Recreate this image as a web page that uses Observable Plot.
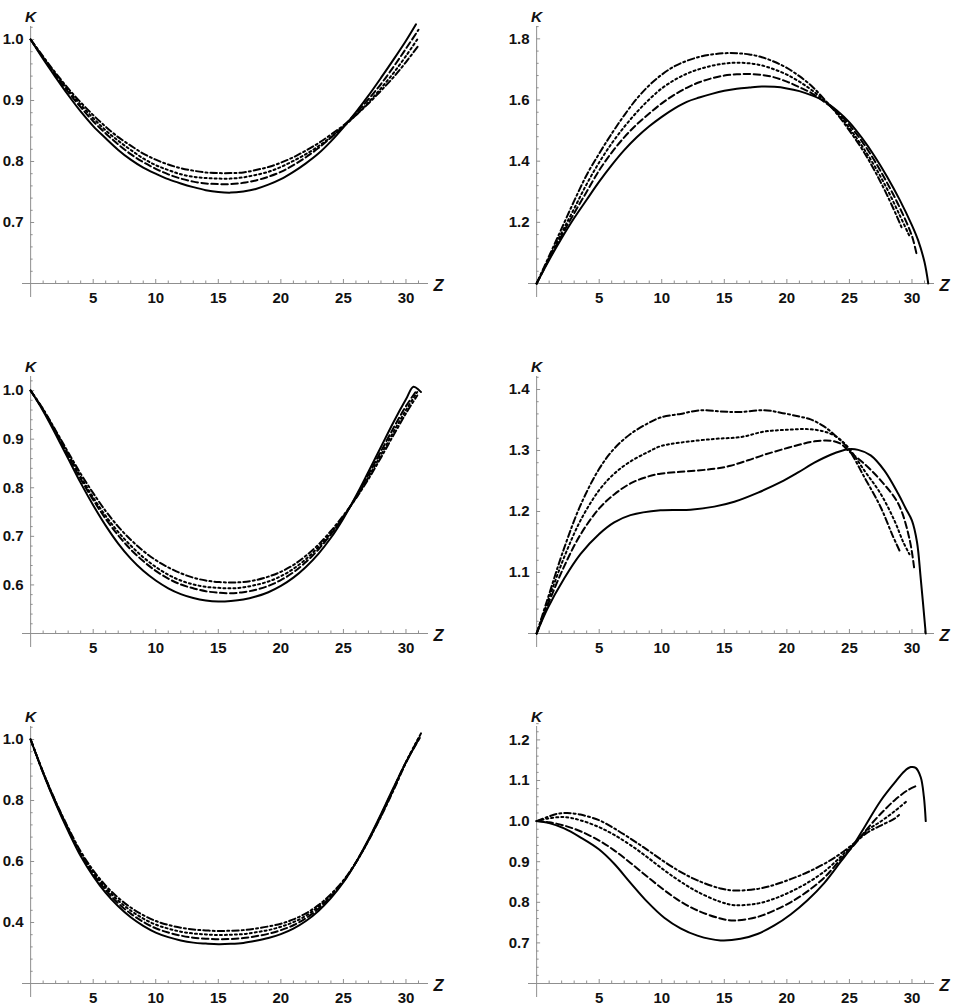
<!DOCTYPE html>
<html>
<head>
<meta charset="utf-8">
<script src="https://cdn.jsdelivr.net/npm/d3@7"></script>
<script src="https://cdn.jsdelivr.net/npm/@observablehq/plot@0.6"></script>
<style>
  html, body { margin: 0; padding: 0; background: #fff; overflow: hidden; }
  #wrap { position: relative; width: 957px; height: 1006px; overflow: hidden; background: #fff; }
  .panel { position: absolute; width: 470px; height: 306px; }
</style>
</head>
<body>
<div id="wrap"></div>
<script>
// ---------- axis ticks ----------
const xMajor = [5, 10, 15, 20, 25, 30];
const xMinor = d3.range(1, 32).filter(v => v % 5 !== 0);

// ---------- panel 1 (top left) ----------
const p1Solid = [[0,1.0],[1,0.968],[2,0.938],[3,0.909],[4,0.882],[5,0.858],[6,0.838],[7,0.819],[8,0.803],[9,0.790],[10,0.780],[11,0.771],[12,0.764],[13,0.758],[14,0.753],[15,0.750],[16,0.749],[17,0.751],[18,0.755],[19,0.762],[20,0.771],[21,0.783],[22,0.797],[23,0.813],[24,0.833],[25,0.856],[26,0.881],[27,0.908],[28,0.937],[29,0.967],[30,0.998],[30.8,1.025]];
const p1Dashed = [[0,1.0],[1,0.970],[2,0.941],[3,0.914],[4,0.889],[5,0.866],[6,0.846],[7,0.828],[8,0.812],[9,0.799],[10,0.788],[11,0.779],[12,0.772],[13,0.767],[14,0.764],[15,0.763],[16,0.763],[17,0.765],[18,0.769],[19,0.775],[20,0.783],[21,0.794],[22,0.807],[23,0.822],[24,0.839],[25,0.858],[26,0.879],[27,0.902],[28,0.927],[29,0.955],[30,0.985],[31,1.016]];
const p1Dotted = [[0,1.0],[1,0.971],[2,0.943],[3,0.917],[4,0.893],[5,0.871],[6,0.851],[7,0.834],[8,0.819],[9,0.805],[10,0.794],[11,0.786],[12,0.779],[13,0.775],[14,0.773],[15,0.772],[16,0.772],[17,0.774],[18,0.778],[19,0.783],[20,0.791],[21,0.801],[22,0.812],[23,0.825],[24,0.840],[25,0.857],[26,0.876],[27,0.897],[28,0.920],[29,0.945],[30,0.973],[31,1.003]];
const p1DashDot = [[0,1.0],[1,0.972],[2,0.945],[3,0.920],[4,0.897],[5,0.876],[6,0.857],[7,0.840],[8,0.826],[9,0.813],[10,0.803],[11,0.795],[12,0.789],[13,0.785],[14,0.782],[15,0.781],[16,0.781],[17,0.782],[18,0.786],[19,0.791],[20,0.798],[21,0.807],[22,0.818],[23,0.830],[24,0.844],[25,0.859],[26,0.876],[27,0.895],[28,0.916],[29,0.938],[30,0.963],[31,0.990]];

// ---------- panel 2 (top right) ----------
const p2Solid = [[0,1.0],[1,1.077],[2,1.148],[3,1.214],[4,1.274],[5,1.333],[6,1.387],[7,1.436],[8,1.478],[9,1.514],[10,1.545],[11,1.572],[12,1.594],[13,1.608],[14,1.620],[15,1.630],[16,1.637],[17,1.641],[18,1.644],[19,1.643],[20,1.638],[21,1.629],[22,1.615],[23,1.596],[24,1.566],[25,1.527],[26,1.476],[27,1.417],[28,1.350],[29,1.275],[30,1.190],[30.5,1.140],[31,1.070],[31.3,1.0]];
const p2Dashed = [[0,1.0],[1,1.080],[2,1.157],[3,1.230],[4,1.300],[5,1.370],[6,1.428],[7,1.478],[8,1.520],[9,1.556],[10,1.589],[11,1.617],[12,1.640],[13,1.658],[14,1.671],[15,1.680],[16,1.684],[17,1.685],[18,1.682],[19,1.674],[20,1.660],[21,1.642],[22,1.622],[23,1.594],[24,1.562],[25,1.518],[26,1.465],[27,1.402],[28,1.330],[29,1.250],[30,1.155],[30.4,1.090]];
const p2Dotted = [[0,1.0],[1,1.085],[2,1.166],[3,1.245],[4,1.325],[5,1.396],[6,1.458],[7,1.512],[8,1.560],[9,1.602],[10,1.638],[11,1.665],[12,1.686],[13,1.701],[14,1.712],[15,1.719],[16,1.722],[17,1.720],[18,1.713],[19,1.700],[20,1.683],[21,1.660],[22,1.632],[23,1.598],[24,1.558],[25,1.508],[26,1.450],[27,1.385],[28,1.310],[29,1.225],[29.8,1.155]];
const p2DashDot = [[0,1.0],[1,1.090],[2,1.180],[3,1.270],[4,1.355],[5,1.425],[6,1.490],[7,1.550],[8,1.604],[9,1.648],[10,1.683],[11,1.710],[12,1.728],[13,1.741],[14,1.749],[15,1.753],[16,1.753],[17,1.749],[18,1.740],[19,1.725],[20,1.705],[21,1.678],[22,1.645],[23,1.602],[24,1.555],[25,1.500],[26,1.440],[27,1.370],[28,1.290],[29,1.200],[29.2,1.180]];

// ---------- panel 3 (middle left) ----------
const p3Solid = [[0,1.0],[1,0.958],[2,0.910],[3,0.860],[4,0.810],[5,0.764],[6,0.722],[7,0.685],[8,0.654],[9,0.629],[10,0.609],[11,0.593],[12,0.581],[13,0.573],[14,0.568],[15,0.566],[16,0.567],[17,0.570],[18,0.576],[19,0.585],[20,0.598],[21,0.615],[22,0.637],[23,0.664],[24,0.697],[25,0.737],[26,0.783],[27,0.833],[28,0.884],[29,0.935],[30,0.982],[30.6,1.008],[31.2,0.997]];
const p3Dashed = [[0,1.0],[1,0.960],[2,0.914],[3,0.866],[4,0.818],[5,0.775],[6,0.736],[7,0.702],[8,0.673],[9,0.649],[10,0.629],[11,0.613],[12,0.601],[13,0.593],[14,0.587],[15,0.584],[16,0.583],[17,0.585],[18,0.590],[19,0.598],[20,0.610],[21,0.626],[22,0.647],[23,0.673],[24,0.704],[25,0.740],[26,0.781],[27,0.827],[28,0.875],[29,0.923],[30,0.968],[30.9,1.002]];
const p3Dotted = [[0,1.0],[1,0.961],[2,0.916],[3,0.869],[4,0.823],[5,0.780],[6,0.742],[7,0.709],[8,0.681],[9,0.657],[10,0.637],[11,0.621],[12,0.609],[13,0.601],[14,0.596],[15,0.594],[16,0.593],[17,0.595],[18,0.600],[19,0.607],[20,0.618],[21,0.633],[22,0.653],[23,0.678],[24,0.707],[25,0.741],[26,0.779],[27,0.822],[28,0.868],[29,0.915],[30,0.960],[30.9,0.997]];
const p3DashDot = [[0,1.0],[1,0.962],[2,0.918],[3,0.873],[4,0.829],[5,0.789],[6,0.752],[7,0.720],[8,0.693],[9,0.670],[10,0.651],[11,0.636],[12,0.624],[13,0.615],[14,0.609],[15,0.606],[16,0.605],[17,0.606],[18,0.610],[19,0.617],[20,0.627],[21,0.641],[22,0.660],[23,0.683],[24,0.711],[25,0.743],[26,0.778],[27,0.818],[28,0.862],[29,0.908],[30,0.953],[30.9,0.990]];

// ---------- panel 4 (middle right) ----------
const p4Solid = [[0,1.0],[0.85,1.040],[2.2,1.090],[3.5,1.130],[5,1.163],[6.2,1.182],[7.5,1.194],[9.9,1.202],[12.3,1.203],[14.2,1.208],[15.8,1.216],[17.7,1.231],[19.5,1.248],[20.9,1.264],[22.2,1.280],[23.5,1.293],[24.9,1.302],[25.7,1.301],[26.7,1.292],[27.8,1.267],[28.9,1.229],[29.5,1.205],[30.0,1.185],[30.4,1.150],[30.7,1.090],[31.1,1.0]];
const p4Dashed = [[0,1.0],[0.85,1.045],[2.2,1.110],[3.5,1.162],[5,1.205],[6.2,1.228],[7.5,1.246],[8.85,1.257],[9.9,1.262],[11.5,1.265],[14.2,1.270],[15.5,1.275],[16.9,1.284],[18.2,1.293],[19.5,1.301],[20.9,1.309],[22.2,1.315],[23.5,1.316],[24.3,1.311],[24.9,1.300],[26.2,1.278],[27.5,1.251],[28.9,1.213],[29.8,1.155],[30.2,1.103]];
const p4Dotted = [[0,1.0],[0.85,1.050],[2.2,1.125],[3.5,1.185],[5,1.235],[6.2,1.262],[7.5,1.282],[8.85,1.297],[9.9,1.307],[11.5,1.313],[14.2,1.319],[16.3,1.322],[18.2,1.331],[20.1,1.334],[21.7,1.335],[23.0,1.331],[24.0,1.322],[24.9,1.305],[26.2,1.267],[27.5,1.229],[28.6,1.185],[29.3,1.150],[29.8,1.130]];
const p4DashDot = [[0,1.0],[0.85,1.055],[2.2,1.140],[3.5,1.210],[5,1.270],[6.2,1.303],[7.5,1.327],[8.85,1.344],[9.9,1.354],[11.5,1.360],[13.1,1.366],[14.7,1.364],[16.1,1.363],[18.2,1.366],[19.5,1.362],[20.9,1.356],[21.9,1.351],[23,1.339],[24,1.322],[24.9,1.303],[26.2,1.256],[27.5,1.207],[28.4,1.163],[29.0,1.136]];

// ---------- panel 5 (bottom left) ----------
const p5Solid = [[0,1.0],[1,0.890],[2,0.790],[3,0.700],[4,0.618],[5,0.552],[6,0.497],[7,0.453],[8,0.417],[9,0.389],[10,0.367],[11,0.352],[12,0.341],[13,0.334],[14,0.331],[15,0.329],[16,0.330],[17,0.333],[18,0.340],[19,0.349],[20,0.362],[21,0.380],[22,0.405],[23,0.438],[24,0.480],[25,0.532],[26,0.597],[27,0.672],[28,0.755],[29,0.842],[30,0.925],[31,1.0]];
const p5Dashed = [[0,1.0],[1,0.891],[2,0.793],[3,0.704],[4,0.624],[5,0.559],[6,0.506],[7,0.463],[8,0.429],[9,0.402],[10,0.381],[11,0.367],[12,0.357],[13,0.350],[14,0.347],[15,0.345],[16,0.346],[17,0.349],[18,0.355],[19,0.363],[20,0.375],[21,0.391],[22,0.414],[23,0.445],[24,0.485],[25,0.534],[26,0.597],[27,0.670],[28,0.752],[29,0.839],[30,0.926],[31.1,1.005]];
const p5Dotted = [[0,1.0],[1,0.892],[2,0.795],[3,0.708],[4,0.629],[5,0.566],[6,0.514],[7,0.472],[8,0.439],[9,0.413],[10,0.393],[11,0.380],[12,0.370],[13,0.364],[14,0.361],[15,0.359],[16,0.360],[17,0.362],[18,0.368],[19,0.375],[20,0.386],[21,0.401],[22,0.422],[23,0.452],[24,0.489],[25,0.537],[26,0.597],[27,0.669],[28,0.750],[29,0.836],[30,0.926],[31.1,1.012]];
const p5DashDot = [[0,1.0],[1,0.893],[2,0.797],[3,0.711],[4,0.633],[5,0.571],[6,0.521],[7,0.481],[8,0.449],[9,0.424],[10,0.405],[11,0.392],[12,0.383],[13,0.377],[14,0.374],[15,0.372],[16,0.373],[17,0.375],[18,0.380],[19,0.387],[20,0.396],[21,0.410],[22,0.430],[23,0.457],[24,0.493],[25,0.538],[26,0.597],[27,0.668],[28,0.747],[29,0.833],[30,0.924],[31.2,1.020]];

// ---------- panel 6 (bottom right) ----------
const p6Solid = [[0,1.0],[1,0.995],[2.2,0.982],[3.5,0.960],[5,0.930],[6.2,0.895],[7.5,0.848],[8.85,0.801],[10.2,0.762],[11.5,0.736],[12.85,0.718],[14.7,0.706],[16.3,0.710],[17.65,0.722],[19,0.743],[20.3,0.770],[21.65,0.805],[23,0.848],[24.3,0.900],[25.4,0.945],[26.2,0.985],[27.5,1.050],[28.6,1.094],[29.4,1.123],[29.9,1.133],[30.3,1.131],[30.7,1.108],[30.95,1.060],[31.1,1.0]];
const p6Dashed = [[0,1.0],[1,0.997],[2.2,0.989],[3.5,0.975],[5,0.952],[6.2,0.928],[7.5,0.897],[8.85,0.863],[10.2,0.830],[11.5,0.802],[12.85,0.780],[14.7,0.760],[15.8,0.755],[17.65,0.764],[19,0.780],[20.3,0.800],[21.65,0.827],[23,0.861],[24.3,0.906],[25.4,0.942],[26.45,0.982],[27.5,1.018],[28.6,1.051],[29.65,1.076],[30.45,1.088]];
const p6Dotted = [[0,1.0],[0.85,1.006],[2.2,1.010],[3.5,1.002],[5,0.985],[6.2,0.966],[7.5,0.941],[8.85,0.911],[10.2,0.879],[11.5,0.851],[12.85,0.826],[14.7,0.801],[15.8,0.793],[17.65,0.797],[19,0.809],[20.3,0.826],[21.65,0.848],[23,0.876],[24.3,0.912],[25.4,0.945],[26.45,0.978],[27.5,0.999],[28.6,1.024],[29.65,1.051]];
const p6DashDot = [[0,1.0],[0.85,1.010],[1.65,1.018],[2.45,1.020],[3.5,1.016],[5,1.002],[6.2,0.982],[7.5,0.957],[8.85,0.929],[10.2,0.900],[11.5,0.875],[12.85,0.854],[14.7,0.834],[15.8,0.829],[17.65,0.833],[19,0.843],[20.3,0.857],[21.65,0.874],[23,0.895],[24.3,0.920],[25.4,0.946],[26.45,0.972],[27.5,0.989],[28.6,1.006],[29,1.016]];

// ---------- y axes ----------
const p1YLabels = [0.7, 0.8, 0.9, 1.0];
const p2YLabels = [1.2, 1.4, 1.6, 1.8];
const p3YLabels = [0.6, 0.7, 0.8, 0.9, 1.0];
const p4YLabels = [1.1, 1.2, 1.3, 1.4];
const p5YLabels = [0.4, 0.6, 0.8, 1.0];
const p6YLabels = [0.7, 0.8, 0.9, 1.0, 1.1, 1.2];

const panels = [
  {col: 0, row: 0, yMin: 0.6, yTop: 1.0213, yLabels: p1YLabels, yStep: 0.02, lines: [p1Solid, p1Dashed, p1Dotted, p1DashDot]},
  {col: 1, row: 0, yMin: 1.0, yTop: 1.8404, yLabels: p2YLabels, yStep: 0.04, lines: [p2Solid, p2Dashed, p2Dotted, p2DashDot]},
  {col: 0, row: 1, yMin: 0.5, yTop: 1.0290, yLabels: p3YLabels, yStep: 0.02, lines: [p3Solid, p3Dashed, p3Dotted, p3DashDot]},
  {col: 1, row: 1, yMin: 1.0, yTop: 1.4213, yLabels: p4YLabels, yStep: 0.02, lines: [p4Solid, p4Dashed, p4Dotted, p4DashDot]},
  {col: 0, row: 2, yMin: 0.2, yTop: 1.0426, yLabels: p5YLabels, yStep: 0.04, lines: [p5Solid, p5Dashed, p5Dotted, p5DashDot]},
  {col: 1, row: 2, yMin: 0.6, yTop: 1.2330, yLabels: p6YLabels, yStep: 0.02, lines: [p6Solid, p6Dashed, p6Dotted, p6DashDot]}
];

const dashes = [null, "6.5,3.5", "2,3", "6.5,3,2,3"];
const AX = "#8f8f8f";
const TXT = "#111";
const FONT = "'Liberation Sans', Arial, Helvetica, sans-serif";

const wrap = document.getElementById("wrap");

for (const p of panels) {
  const span = p.yTop - p.yMin;
  const yLo = p.yMin - span * 14 / 257;
  const nMinor = Math.round((p.yTop - p.yMin) / p.yStep);
  const yTicks = d3.range(0, nMinor + 1).map(i => +(p.yMin + i * p.yStep).toFixed(4));
  const isMajor = v => p.yLabels.some(l => Math.abs(l - v) < 1e-6);
  const yMinorTicks = yTicks.filter(v => !isMajor(v) && Math.abs(v - p.yMin) > 1e-6);

  const marks = [
    // axes lines
    Plot.ruleY([p.yMin], {stroke: AX, strokeWidth: 1}),
    Plot.ruleX([0], {stroke: AX, strokeWidth: 1}),
    // x ticks (pointing up)
    Plot.ruleX(xMinor, {x: d => d, y1: p.yMin, y2: p.yMin, insetTop: -2.5, stroke: AX, strokeWidth: 1}),
    Plot.ruleX(xMajor, {x: d => d, y1: p.yMin, y2: p.yMin, insetTop: -4, stroke: AX, strokeWidth: 1}),
    // y ticks (pointing right)
    Plot.ruleY(yMinorTicks, {y: d => d, x1: 0, x2: 0, insetRight: -2.5, stroke: AX, strokeWidth: 1}),
    Plot.ruleY(p.yLabels, {y: d => d, x1: 0, x2: 0, insetRight: -4, stroke: AX, strokeWidth: 1}),
    // tick labels
    Plot.text(xMajor, {x: d => d, y: () => p.yMin, text: d => String(d), dy: 15, fontWeight: "bold", fontSize: 15, fill: TXT}),
    Plot.text(p.yLabels, {x: () => 0, y: d => d, text: d => d.toFixed(1), dx: -7, textAnchor: "end", fontWeight: "bold", fontSize: 15, fill: TXT}),
    // axis names
    Plot.text(["K"], {x: () => 0, frameAnchor: "top", text: d => d, dy: -16, fontWeight: "bold", fontStyle: "italic", fontSize: 15.5, fill: TXT}),
    Plot.text(["Z"], {y: () => p.yMin, frameAnchor: "right", text: d => d, dx: 15, dy: 2, fontWeight: "bold", fontStyle: "italic", fontSize: 16.5, fill: TXT})
  ];
  p.lines.forEach((series, i) => {
    marks.push(Plot.line(series, {
      x: d => d[0], y: d => d[1],
      stroke: "#000", strokeWidth: 2,
      strokeDasharray: dashes[i],
      curve: "catmull-rom"
    }));
  });

  const chart = Plot.plot({
    width: 470,
    height: 306,
    marginLeft: 22,
    marginRight: 42,
    marginTop: 26,
    marginBottom: 9,
    x: {domain: [-0.65, 31.8], axis: null},
    y: {domain: [yLo, p.yTop], axis: null},
    style: {fontFamily: FONT, background: "transparent", overflow: "visible"},
    marks
  });

  const div = document.createElement("div");
  div.className = "panel";
  div.style.left = (p.col * 506) + "px";
  div.style.top = (p.row * 350) + "px";
  div.appendChild(chart);
  wrap.appendChild(div);
}
</script>
</body>
</html>
